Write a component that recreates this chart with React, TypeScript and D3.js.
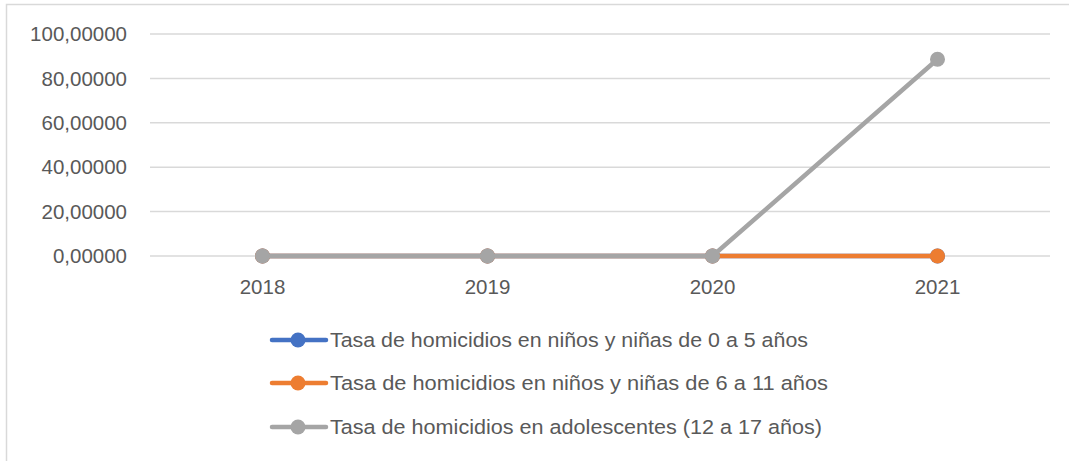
import React from "react";
import * as d3 from "d3";

const categories = ["2018", "2019", "2020", "2021"];
const seriesNames = [
  "Tasa de homicidios en niños y niñas de 0 a 5 años",
  "Tasa de homicidios en niños y niñas de 6 a 11 años",
  "Tasa de homicidios en adolescentes (12 a 17 años)",
];
const serie0a5 = [0, 0, 0, 0];
const serie6a11 = [0, 0, 0, 0];
const serie12a17 = [0, 0, 0, 88.6];
const yTicks = [0, 20, 40, 60, 80, 100];
const colors = ["#4472C4", "#ED7D31", "#A5A5A5"];

const W = 1069;
const H = 461;
const plot = { left: 150, right: 1050, top: 34, bottom: 256 };
const FONT = "'Liberation Sans', Arial, sans-serif";
const legendWidths = [478, 498, 492];

export default function App() {
  const x = d3.scaleBand<string>().domain(categories).range([plot.left, plot.right]);
  const y = d3.scaleLinear().domain([0, 100]).range([plot.bottom, plot.top]);
  const cx = (c: string) => (x(c) as number) + x.bandwidth() / 2;
  const series = [serie0a5, serie6a11, serie12a17];
  const line = d3
    .line<number>()
    .x((_, i) => cx(categories[i]))
    .y((d) => y(d));
  const fmt = (v: number) => v.toFixed(5).replace(".", ",");
  const legendY = [340, 383, 427];

  return (
    <svg
      width={W}
      height={H}
      style={{ position: "absolute", left: 0, top: 0, background: "#fff" }}
      fontFamily={FONT}
    >
      <rect x={6.5} y={4.5} width={W + 10} height={H + 10} fill="#fff" stroke="#d9d9d9" strokeWidth={1.5} />
      {yTicks.map((t) => (
        <g key={t}>
          <line x1={plot.left} x2={plot.right} y1={y(t)} y2={y(t)} stroke="#d9d9d9" strokeWidth={1.5} />
          <text x={127} y={y(t)} dy="0.35em" textAnchor="end" fontSize={20.5} fill="#595959">
            {fmt(t)}
          </text>
        </g>
      ))}
      {categories.map((c) => (
        <text key={c} x={cx(c)} y={287} dy="0.35em" textAnchor="middle" fontSize={20.5} fill="#595959">
          {c}
        </text>
      ))}
      {series.map((s, si) => (
        <g key={si}>
          <path d={line(s) || ""} fill="none" stroke={colors[si]} strokeWidth={4.5} strokeLinejoin="round" />
          {s.map((v, i) => (
            <circle key={i} cx={cx(categories[i])} cy={y(v)} r={7.5} fill={colors[si]} />
          ))}
        </g>
      ))}
      {seriesNames.map((n, i) => (
        <g key={n}>
          <line x1={272} x2={326} y1={legendY[i]} y2={legendY[i]} stroke={colors[i]} strokeWidth={4.5} strokeLinecap="round" />
          <circle cx={298} cy={legendY[i]} r={7.5} fill={colors[i]} />
          <text
            x={330}
            y={legendY[i]}
            dy="0.35em"
            fontSize={20.5}
            fill="#595959"
            textLength={legendWidths[i]}
            lengthAdjust="spacingAndGlyphs"
          >
            {n}
          </text>
        </g>
      ))}
    </svg>
  );
}
